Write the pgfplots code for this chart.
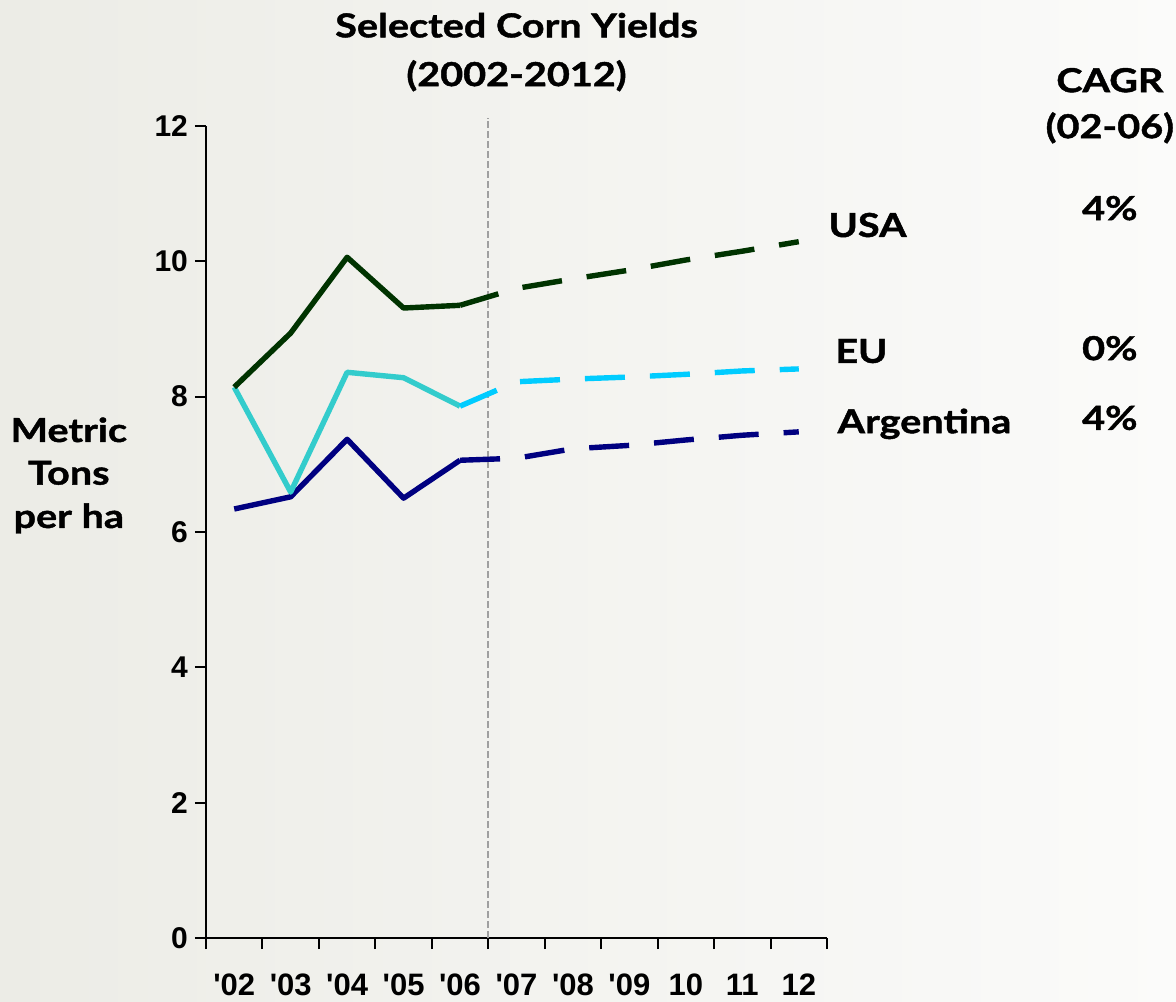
\documentclass[border=0pt]{standalone}
\usepackage{fontspec}
\setmainfont{Lato}[FakeStretch=1.2, BoldFeatures={FakeBold=1.3}]
\newfontfamily\tickfont{Liberation Sans}
\usepackage{pgfplots}
\pgfplotsset{compat=1.18}
\definecolor{usa}{RGB}{0,51,0}
\definecolor{eusolid}{RGB}{51,204,204}
\definecolor{eudash}{RGB}{0,204,255}
\definecolor{arg}{RGB}{0,0,128}
\definecolor{vline}{RGB}{160,160,160}
\definecolor{bgl}{RGB}{236,236,230}
\definecolor{bgr}{RGB}{251,251,250}
\begin{document}
\begin{tikzpicture}
\fill[left color=bgl, right color=bgr] (-103pt,-31.5pt) rectangle (485pt,469pt);
\begin{axis}[
  at={(0,0)}, anchor=south west, scale only axis,
  width=310.5pt, height=406pt,
  xmin=0.5, xmax=11.5, ymin=0, ymax=12,
  axis lines=left, axis line style={-, line width=1pt, black},
  clip=false,
  xtick={0.5,1.5,...,11.5}, xticklabels={},
  extra x ticks={1,2,3,4,5,6,7,8,9,10,11},
  extra x tick labels={\textquotesingle02,\textquotesingle03,\textquotesingle04,\textquotesingle05,\textquotesingle06,\textquotesingle07,\textquotesingle08,\textquotesingle09,10,11,12},
  extra x tick style={major tick length=0pt},
  ytick={0,2,4,6,8,10,12},
  tick align=outside, major tick length=5.5pt,
  tick style={black, line width=1pt},
  /pgf/number format/assume math mode=true,
  yticklabel style={font=\tickfont\bfseries\fontsize{15}{18}\selectfont},
  xticklabel style={font=\tickfont\bfseries\fontsize{15.5}{18}\selectfont, anchor=base, yshift=-28.5pt},
]
\addplot[vline, line width=1pt, dash pattern=on 3.5pt off 1.5pt] coordinates {(5.5,0) (5.5,12.12)};
\addplot[arg, line width=2.7pt, line join=round] coordinates {(1,6.34)(2,6.52)(3,7.37)(4,6.50)(5,7.06)};
\addplot[arg, line width=2.7pt, dash pattern=on 20pt off 12.5pt] coordinates {(5,7.06)(6,7.09)(7,7.23)(8,7.28)(9,7.36)(10,7.43)(11,7.48)};
\addplot[eusolid, line width=2.7pt, line join=round] coordinates {(1,8.14)(2,6.59)(3,8.36)(4,8.28)(5,7.86)};
\addplot[eudash, line width=2.7pt, dash pattern=on 20pt off 12.5pt] coordinates {(5,7.86)(6,8.22)(7,8.26)(8,8.29)(9,8.33)(10,8.38)(11,8.41)};
\addplot[usa, line width=2.7pt, line join=round] coordinates {(1,8.14)(2,8.94)(3,10.06)(4,9.31)(5,9.35)};
\addplot[usa, line width=2.7pt, dash pattern=on 20pt off 12.5pt] coordinates {(5,9.35)(6,9.60)(7,9.74)(8,9.87)(9,10.02)(10,10.15)(11,10.29)};

\tikzset{lab/.style={font=\bfseries\fontsize{16.5}{19}\selectfont, inner sep=0pt}}
\node[lab, anchor=base] at (axis cs:6,13.31) {Selected Corn Yields};
\node[lab, anchor=base] at (axis cs:6,12.59) {(2002-2012)};
\node[lab, anchor=base] at (axis cs:16.51,12.50) {CAGR};
\node[lab, anchor=base] at (axis cs:16.51,11.82) {(02-06)};
\node[lab, anchor=base west] at (axis cs:11.52,10.36) {USA};
\node[lab, anchor=base west] at (axis cs:11.64,8.50) {EU};
\node[lab, anchor=base west] at (axis cs:11.68,7.46) {Argentina};
\node[lab, anchor=base] at (axis cs:16.51,10.61) {4\%};
\node[lab, anchor=base] at (axis cs:16.51,8.54) {0\%};
\node[lab, anchor=base] at (axis cs:16.51,7.51) {4\%};
\node[lab, anchor=base] at (axis cs:-1.93,7.33) {Metric};
\node[lab, anchor=base] at (axis cs:-1.93,6.70) {Tons};
\node[lab, anchor=base] at (axis cs:-1.93,6.06) {per ha};
\end{axis}
\pgfresetboundingbox
\path (-103pt,-31.5pt) rectangle (485pt,469pt);
\end{tikzpicture}
\end{document}
